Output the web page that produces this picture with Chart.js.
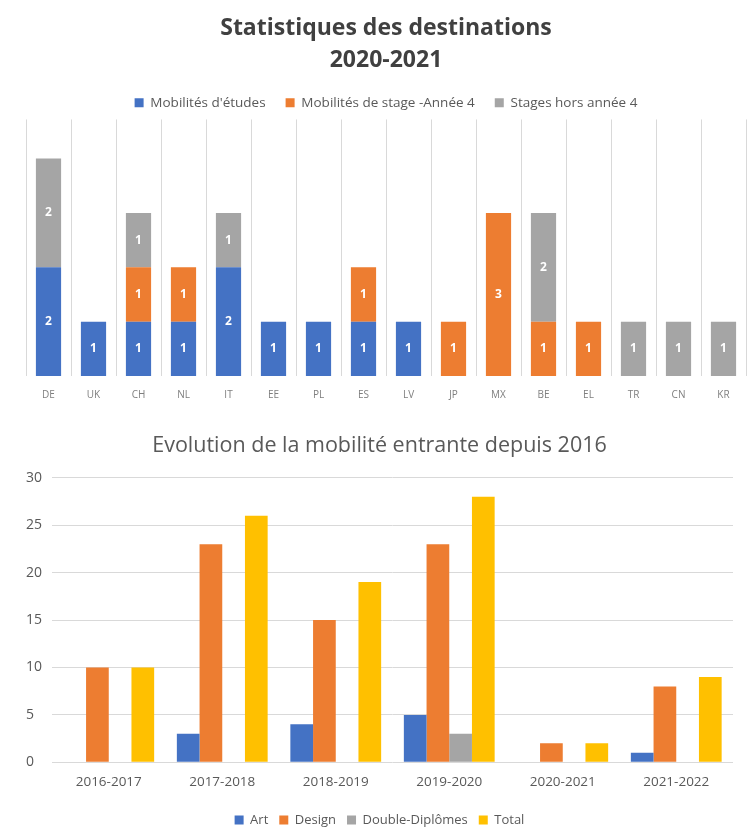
<!DOCTYPE html>
<html lang="fr">
<head>
<meta charset="utf-8">
<title>Mobilités internationales</title>
<script src="https://cdn.jsdelivr.net/npm/chart.js@4.4.1/dist/chart.umd.min.js"></script>
<style>
    html, body { margin: 0; padding: 0; background: #fff; overflow: hidden; }
    .box { position: relative; width: 748px; }
    #top { height: 410px; }
    #bottom { height: 418px; }
</style>
</head>
<body>
<div class="box" id="top"><canvas id="destChart"></canvas></div>
<div class="box" id="bottom"><canvas id="entrantChart"></canvas></div>
<script>
// Statistiques des destinations 2020-2021
const countries = ['DE', 'UK', 'CH', 'NL', 'IT', 'EE', 'PL', 'ES', 'LV', 'JP', 'MX', 'BE', 'EL', 'TR', 'CN', 'KR'];
const etudes    = [2, 1, 1, 1, 2, 1, 1, 1, 1, 0, 0, 0, 0, 0, 0, 0];
const stageA4   = [0, 0, 1, 1, 0, 0, 0, 1, 0, 1, 3, 1, 1, 0, 0, 0];
const horsA4    = [2, 0, 1, 0, 1, 0, 0, 0, 0, 0, 0, 2, 0, 1, 1, 1];

// Evolution de la mobilité entrante
const years          = ['2016-2017', '2017-2018', '2018-2019', '2019-2020', '2020-2021', '2021-2022'];
const art            = [0, 3, 4, 5, 0, 1];
const design         = [10, 23, 15, 23, 2, 8];
const doubleDiplomes = [0, 0, 0, 3, 0, 0];
const total          = [10, 26, 19, 28, 2, 9];

const BLUE = '#4472C4';
const ORANGE = '#ED7D31';
const GREY = '#A5A5A5';
const YELLOW = '#FFC000';

Chart.defaults.font.family = '"Open Sans", sans-serif';
Chart.defaults.color = '#595959';

// white value labels in the middle of each bar segment
const barValues = {
    id: 'barValues',
    afterDatasetsDraw(chart) {
        const ctx = chart.ctx;
        ctx.save();
        ctx.fillStyle = '#fff';
        ctx.font = 'bold 12px "Open Sans", sans-serif';
        ctx.textAlign = 'center';
        ctx.textBaseline = 'middle';
        chart.data.datasets.forEach((ds, i) => {
            chart.getDatasetMeta(i).data.forEach((bar, j) => {
                const v = ds.data[j];
                if (!v) return;
                const p = bar.getCenterPoint();
                ctx.fillText(v, p.x, p.y);
            });
        });
        ctx.restore();
    }
};

document.addEventListener('DOMContentLoaded', () => {
    renderDestinations();
    renderEntrants();
});

function renderDestinations() {
    const ctx = document.getElementById('destChart');

    new Chart(ctx, {
        type: 'bar',
        data: {
            labels: countries,
            datasets: [
                { label: "Mobilités d'études", data: etudes, backgroundColor: BLUE },
                { label: 'Mobilités de stage -Année 4', data: stageA4, backgroundColor: ORANGE },
                { label: 'Stages hors année 4', data: horsA4, backgroundColor: GREY }
            ]
        },
        options: {
            responsive: true,
            maintainAspectRatio: false,
            animation: false,
            layout: { padding: { left: 26, right: 2, bottom: -4 } },
            datasets: { bar: { barPercentage: 0.56, categoryPercentage: 1 } },
            scales: {
                x: {
                    stacked: true,
                    grid: { color: '#d9d9d9', drawTicks: false },
                    border: { display: false },
                    ticks: { font: { size: 10 }, color: '#7f7f7f', padding: 13 }
                },
                y: { stacked: true, display: false, min: 0, max: 4.72 }
            },
            plugins: {
                title: {
                    display: true,
                    text: ['Statistiques des destinations', '2020-2021'],
                    font: { size: 23, weight: 'bold', lineHeight: 1.39 },
                    color: '#404040',
                    padding: { top: 12, bottom: 0 }
                },
                legend: {
                    labels: { boxWidth: 9, boxHeight: 9, padding: 20, font: { size: 13.5 }, color: '#595959' }
                },
                tooltip: { enabled: false }
            }
        },
        plugins: [barValues]
    });
}

function renderEntrants() {
    const ctx = document.getElementById('entrantChart');

    new Chart(ctx, {
        type: 'bar',
        data: {
            labels: years,
            datasets: [
                { label: 'Art', data: art, backgroundColor: BLUE },
                { label: 'Design', data: design, backgroundColor: ORANGE },
                { label: 'Double-Diplômes', data: doubleDiplomes, backgroundColor: GREY },
                { label: 'Total', data: total, backgroundColor: YELLOW }
            ]
        },
        options: {
            responsive: true,
            maintainAspectRatio: false,
            animation: false,
            layout: { padding: { left: 26, right: 15, bottom: -8.5 } },
            datasets: { bar: { barPercentage: 1, categoryPercentage: 0.8 } },
            scales: {
                x: {
                    grid: { display: false, drawTicks: false },
                    border: { display: false },
                    ticks: { font: { size: 13.5 }, color: '#595959', padding: 12 }
                },
                y: {
                    min: 0,
                    max: 30,
                    grid: { color: '#d9d9d9', drawTicks: false },
                    border: { display: false },
                    ticks: { stepSize: 5, crossAlign: 'far', padding: 5, font: { size: 14 }, color: '#595959' }
                }
            },
            plugins: {
                title: {
                    display: true,
                    text: 'Evolution de la mobilité entrante depuis 2016',
                    font: { size: 21.5, weight: 'normal' },
                    color: '#595959',
                    padding: { top: 23, bottom: 19 }
                },
                legend: {
                    position: 'bottom',
                    labels: { boxWidth: 9, boxHeight: 9, padding: 11, font: { size: 13 }, color: '#595959' }
                },
                tooltip: { enabled: false }
            }
        }
    });
}
</script>
</body>
</html>
